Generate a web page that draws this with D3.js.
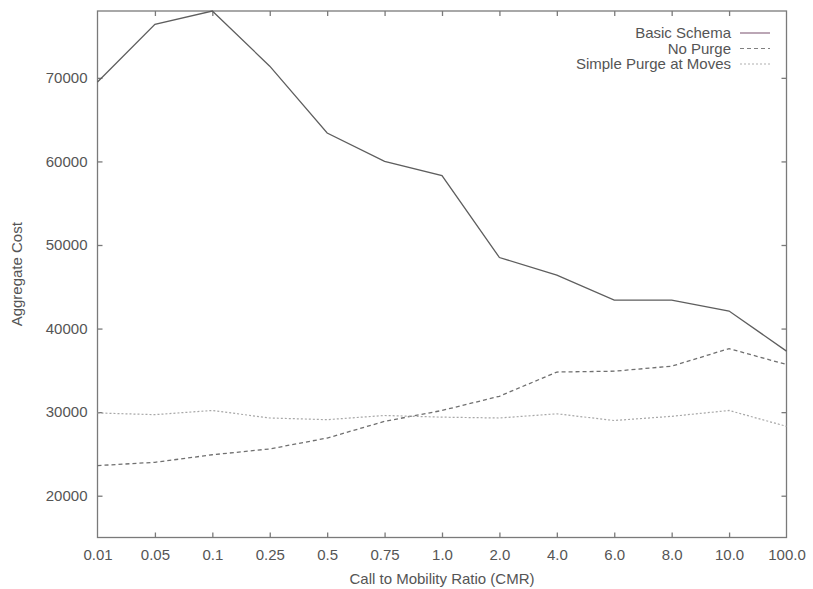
<!DOCTYPE html>
<html>
<head>
<meta charset="utf-8">
<script src="https://cdn.jsdelivr.net/npm/d3@7/dist/d3.min.js"></script>
<style>
  html, body { margin: 0; padding: 0; background: #fff; }
  svg { display: block; }
  text { font-family: "Liberation Sans", Arial, Helvetica, sans-serif; fill: #555; }
</style>
</head>
<body>
<svg id="chart" width="813" height="589"></svg>
<script>
// Call-to-mobility ratio categories (evenly spaced on the x axis)
const cmrLabels = ["0.01", "0.05", "0.1", "0.25", "0.5", "0.75", "1.0", "2.0", "4.0", "6.0", "8.0", "10.0", "100.0"];

// Aggregate cost for each scheme
const basicSchema = [69500, 76400, 78000, 71400, 63400, 60000, 58300, 48500, 46400, 43400, 43400, 42100, 37300];
const noPurge     = [23600, 24000, 24900, 25600, 26900, 28900, 30200, 31900, 34800, 34900, 35500, 37600, 35700];
const simplePurge = [29900, 29700, 30200, 29300, 29100, 29600, 29400, 29300, 29800, 29000, 29500, 30200, 28300];

const yTicks = [20000, 30000, 40000, 50000, 60000, 70000];

const series = [
  { name: "Basic Schema",          values: basicSchema, stroke: "#5e5e5e", width: 1.3, dash: null,  key: "#8e6b84" },
  { name: "No Purge",              values: noPurge,     stroke: "#707070", width: 1.3, dash: "4,3", key: "#808080" },
  { name: "Simple Purge at Moves", values: simplePurge, stroke: "#a8a8a8", width: 1.2, dash: "2,2", key: "#b0b0b0" }
];

const svg = d3.select("#chart");
const plotL = 97.5, plotR = 786.5, plotT = 11, plotB = 537.5;

const x = d3.scalePoint().domain(cmrLabels).range([plotL, plotR]);
const y = d3.scaleLinear().domain([15000, 78000]).range([plotB, plotT]);

const axisColor = "#7a7a7a";
const tickLen = 5;

// Frame
svg.append("rect")
  .attr("x", plotL).attr("y", plotT)
  .attr("width", plotR - plotL).attr("height", plotB - plotT)
  .attr("fill", "none").attr("stroke", axisColor).attr("stroke-width", 1.3);

// Left and right axes (ticks pointing inward)
const yAxisL = d3.axisLeft(y).tickValues(yTicks).tickSize(-tickLen).tickPadding(10).tickFormat(d3.format("d"));
const gl = svg.append("g").attr("transform", `translate(${plotL},0)`).call(yAxisL);
const yAxisR = d3.axisRight(y).tickValues(yTicks).tickSize(-tickLen).tickFormat("");
const gr = svg.append("g").attr("transform", `translate(${plotR},0)`).call(yAxisR);

// Bottom and top axes
const xAxisB = d3.axisBottom(x).tickSize(-tickLen).tickPadding(12);
const gb = svg.append("g").attr("transform", `translate(0,${plotB})`).call(xAxisB);
const xAxisT = d3.axisTop(x).tickSize(-tickLen).tickFormat("");
const gt = svg.append("g").attr("transform", `translate(0,${plotT})`).call(xAxisT);

[gl, gr, gb, gt].forEach(g => {
  g.select(".domain").remove();
  g.selectAll(".tick line").attr("stroke", axisColor).attr("stroke-width", 1.3);
  g.selectAll(".tick text").attr("font-size", 15).attr("fill", "#5a5a5a")
    .attr("font-family", "'Liberation Sans', Arial, sans-serif");
});
// Avoid a tick duplicating the frame edge
gb.selectAll(".tick").filter((d, i) => i === 0 || i === cmrLabels.length - 1).select("line").remove();
gt.selectAll(".tick").filter((d, i) => i === 0 || i === cmrLabels.length - 1).select("line").remove();

// Axis titles
svg.append("text")
  .attr("x", (plotL + plotR) / 2).attr("y", 584)
  .attr("text-anchor", "middle").attr("font-size", 15)
  .text("Call to Mobility Ratio (CMR)");

svg.append("text")
  .attr("transform", `translate(22,${(plotT + plotB) / 2}) rotate(-90)`)
  .attr("text-anchor", "middle").attr("font-size", 15)
  .text("Aggregate Cost");

// Data lines
const line = d3.line().x((d, i) => x(cmrLabels[i])).y(d => y(d));

series.forEach(s => {
  svg.append("path")
    .datum(s.values)
    .attr("d", line)
    .attr("fill", "none")
    .attr("stroke", s.stroke)
    .attr("stroke-width", s.width)
    .attr("stroke-dasharray", s.dash);
});

// Legend
const legend = svg.append("g");
series.forEach((s, i) => {
  const ly = 33 + i * 15.5;
  legend.append("text")
    .attr("x", 731).attr("y", ly).attr("dy", "0.35em")
    .attr("text-anchor", "end").attr("font-size", 15)
    .text(s.name);
  legend.append("line")
    .attr("x1", 740).attr("x2", 770).attr("y1", ly).attr("y2", ly)
    .attr("stroke", s.key).attr("stroke-width", 1.2)
    .attr("stroke-dasharray", s.dash);
});
</script>
</body>
</html>
